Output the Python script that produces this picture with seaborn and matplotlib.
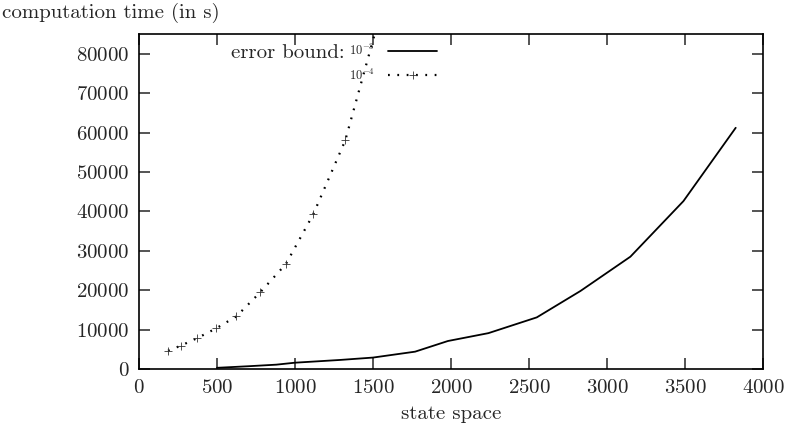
import seaborn as sns
import pandas as pd
import matplotlib
matplotlib.use('Agg')
import matplotlib.pyplot as plt
from matplotlib.lines import Line2D

# error bound 10^-3 (solid)
x_e3 = [500, 700, 880, 1000, 1290, 1500, 1770, 1980, 2240, 2550, 2830, 3150, 3490, 3825]
t_e3 = [300, 700, 1100, 1600, 2300, 2900, 4400, 7100, 9100, 13100, 19800, 28500, 42600, 61200]

# error bound 10^-4 (dotted with + points)
x_e4 = [186, 267, 374, 494, 624, 778, 942, 1117, 1322, 1560]
t_e4 = [4630, 5900, 7850, 10300, 13340, 19500, 26660, 39250, 57980, 92000]

labels = [r'$10^{-3}$', r'$10^{-4}$']

sns.set_style('ticks')
plt.rcParams['font.family'] = ['cmr10', 'DejaVu Serif']
plt.rcParams['mathtext.fontset'] = 'cm'
plt.rcParams['axes.unicode_minus'] = False
plt.rcParams['axes.formatter.use_mathtext'] = True

df3 = pd.DataFrame(dict(n=x_e3, t=t_e3))
df4 = pd.DataFrame(dict(n=x_e4, t=t_e4))

fig = plt.figure(figsize=(7.9, 4.34), dpi=100)
ax = fig.add_axes([139/790, 1-369/434, (763-139)/790, (369-34)/434])

dots = (0, (0.8, 3.4))
sns.lineplot(data=df3, x='n', y='t', ax=ax, color='black', linewidth=1.3)
sns.lineplot(data=df4, x='n', y='t', ax=ax, color='black', linewidth=1.6,
             linestyle=dots, marker='+', markersize=6,
             markeredgewidth=0.6, markeredgecolor='#333333')

ax.set_xlim(0, 4000)
ax.set_ylim(0, 85000)
ax.set_xticks(range(0, 4001, 500))
ax.set_yticks(range(0, 80001, 10000))
ax.set_xlabel('state space', fontsize=15, labelpad=6)
ax.set_ylabel('')
ax.tick_params(direction='in', length=8, width=1.1, top=True, right=True,
               labelsize=15, pad=7)
for s in ax.spines.values():
    s.set_visible(True)
    s.set_linewidth(1.2)
    s.set_color('black')

fig.text(0.002, 0.97, 'computation time (in s)', fontsize=15, va='center', ha='left')

h3 = Line2D([], [], color='black', linewidth=1.3)
h4 = Line2D([], [], color='black', linewidth=1.6, linestyle=dots,
            marker='+', markersize=6, markeredgewidth=0.6, markeredgecolor='#333333')
ax.legend([h3, h4], labels, markerfirst=False, frameon=False, fontsize=9,
          loc='upper right', bbox_to_anchor=(437/790, 1-43/434),
          bbox_transform=fig.transFigure, borderaxespad=0, borderpad=0,
          handlelength=3.9, handletextpad=1.1, labelspacing=0.75)
fig.text(345/790, 1-53/434, 'error bound:', fontsize=15, ha='right', va='center')

fig.savefig('out.png', dpi=100)
